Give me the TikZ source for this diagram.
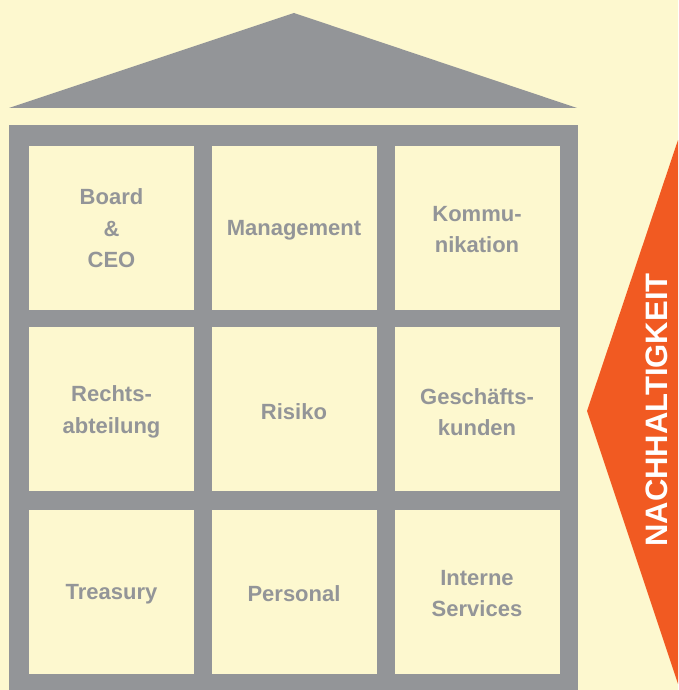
\documentclass[tikz,border=0pt]{standalone}
\usepackage{fontspec}
\setmainfont{Liberation Sans}
\definecolor{bgyellow}{HTML}{FDF8CF}
\definecolor{framegray}{HTML}{939598}
\definecolor{signorange}{HTML}{F15A22}
\tikzset{
  cell/.style={fill=bgyellow, minimum width=165pt, minimum height=164pt, inner sep=0pt},
  celltext/.style={align=center, text=framegray, inner sep=0pt, font=\bfseries\fontsize{22}{31.5}\selectfont},
  sidelabel/.style={rotate=90, text=white, inner sep=0pt, font=\bfseries\fontsize{31}{31}\selectfont}
}
\begin{document}
\begin{tikzpicture}[x=1pt,y=-1pt]
\useasboundingbox (0,0) rectangle (678,690);
\fill[bgyellow] (0,0) rectangle (678,690);
% roof
\fill[framegray] (294,13) -- (577,108) -- (9,108) -- cycle;
% frame
\fill[framegray] (9,125) rectangle (578,690);
% cells
\node[cell] (board) at (111.5,227.5) {};
\node[cell] (mgmt) at (294,227.5) {};
\node[cell] (komm) at (477,227.5) {};
\node[cell] (recht) at (111.5,409) {};
\node[cell] (risiko) at (294,409) {};
\node[cell] (gesch) at (477,409) {};
\node[cell] (treas) at (111.5,591.5) {};
\node[cell] (pers) at (294,591.5) {};
\node[cell] (intern) at (477,591.5) {};
% labels
\node[celltext] (tboard) at ([yshift=-1pt]board.center) {Board\\\&\\CEO};
\node[celltext] (tmgmt) at ([yshift=-3pt]mgmt.center) {Management};
\node[celltext] (tkomm) at ([yshift=-2pt]komm.center) {Kommu-\\nikation};
\node[celltext] (trecht) at ([yshift=-3pt]recht.center) {Rechts-\\abteilung};
\node[celltext] (trisiko) at ([yshift=-3pt]risiko.center) {Risiko};
\node[celltext] (tgesch) at ([yshift=-3pt]gesch.center) {Geschäfts-\\kunden};
\node[celltext] (ttreas) at ([yshift=-3pt]treas.center) {Treasury};
\node[celltext] (tpers) at ([yshift=-2pt]pers.center) {Personal};
\node[celltext] (tintern) at ([yshift=-2pt]intern.center) {Interne\\Services};
% sustainability arrow
\fill[signorange] (678,140) -- (587,411) -- (678,684) -- cycle;
\node[sidelabel] (nach) at (657,410) {NACHHALTIGKEIT};
\end{tikzpicture}
\end{document}
